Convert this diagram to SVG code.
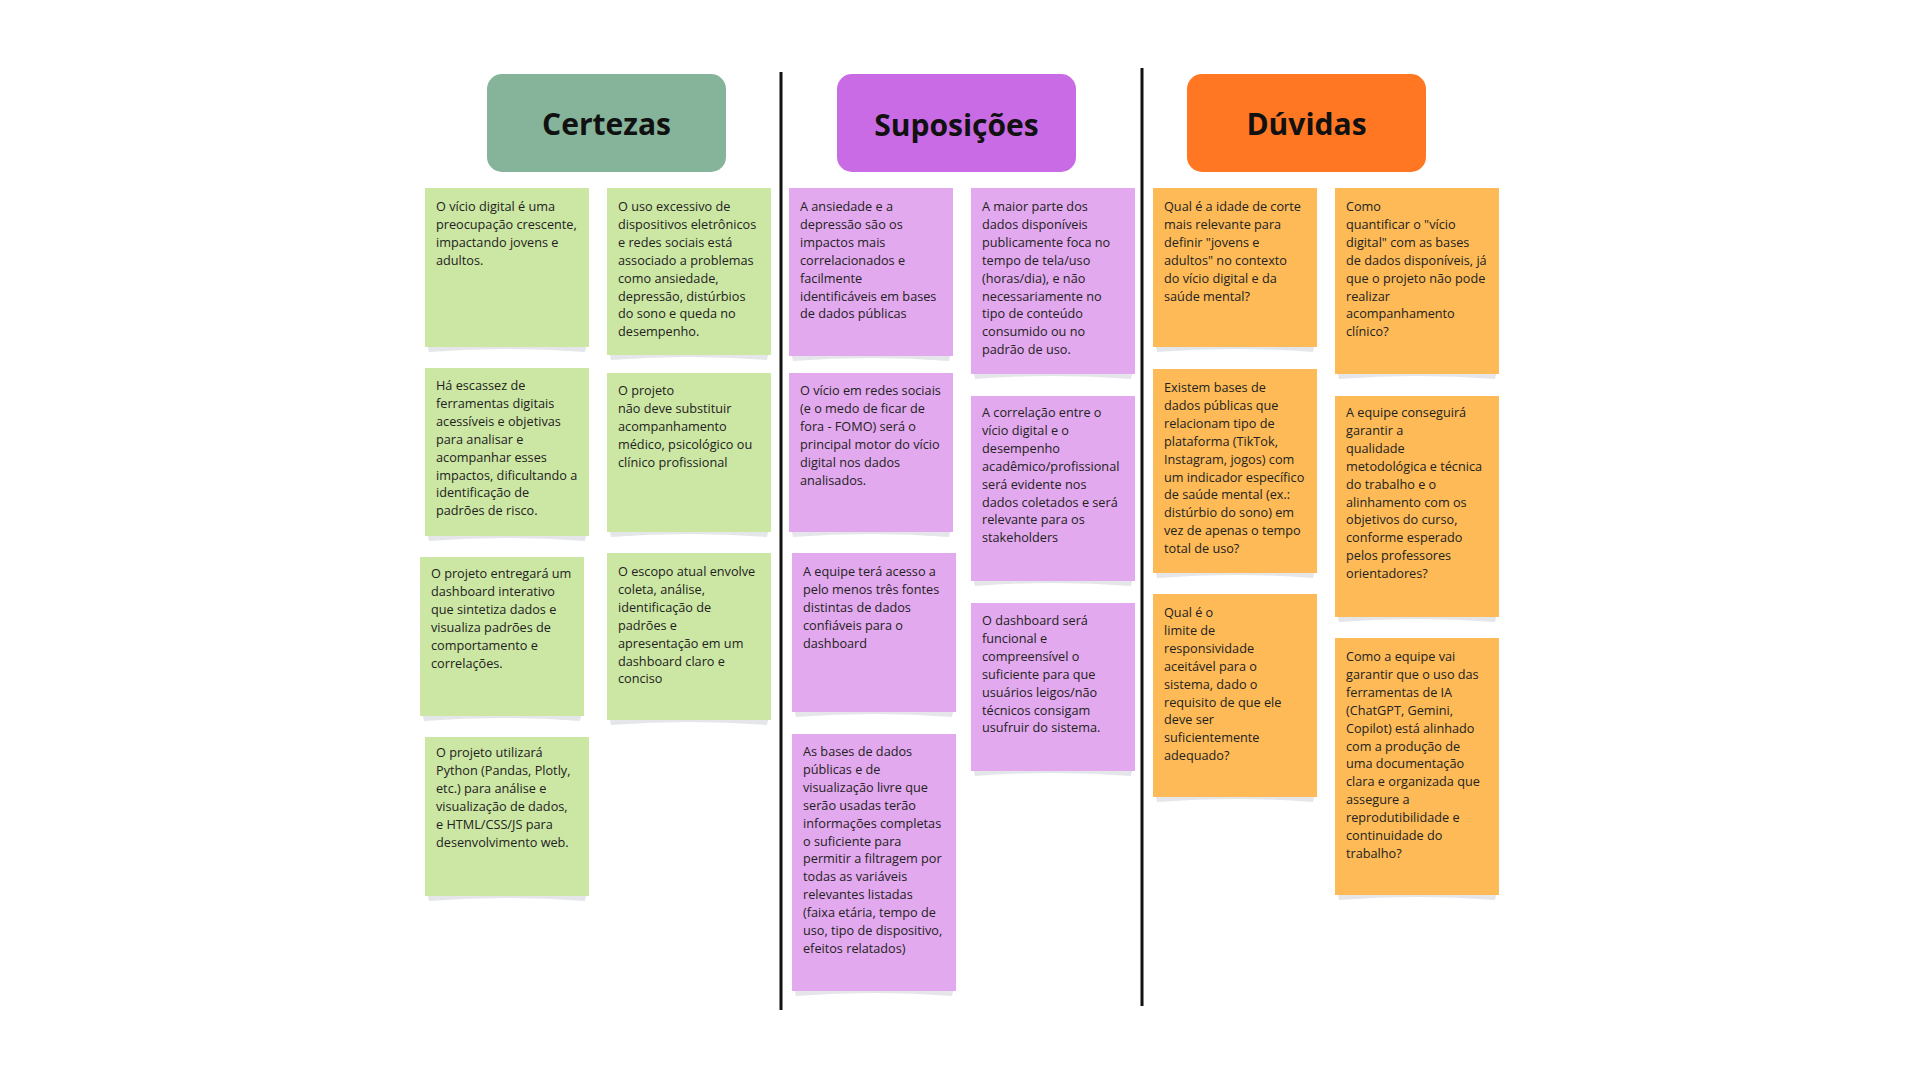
<svg xmlns="http://www.w3.org/2000/svg" width="1920" height="1080" viewBox="0 0 1920 1080">
<style>
.hd{font-family:"Open Sans","Noto Sans","DejaVu Sans",sans-serif;font-weight:700;font-size:30px;fill:#111;text-anchor:middle}
.t{font-family:"Open Sans","Noto Sans","DejaVu Sans",sans-serif;font-size:12.7px;fill:#222}
.g{fill:#CCE6A4}.p{fill:#E2A9EE}.o{fill:#FDBA57}
.sh{fill:#E4E6EA}
.sep{stroke:#111;stroke-width:3;fill:none}
</style>
<rect width="1920" height="1080" fill="#fff"/>
<g id="separators">
<line class="sep" x1="781" y1="72" x2="781" y2="1010"/>
<line class="sep" x1="1142" y1="68" x2="1142" y2="1006"/>
</g>
<g id="header-certezas"><rect x="487" y="74" width="239" height="98" rx="15" fill="#86B49A"/><text class="hd" x="606.5" y="135">Certezas</text></g>
<g id="header-suposicoes"><rect x="837" y="74" width="239" height="98" rx="15" fill="#C96BE4"/><text class="hd" x="956.5" y="136">Suposições</text></g>
<g id="header-duvidas"><rect x="1187" y="74" width="239" height="98" rx="15" fill="#FF7722"/><text class="hd" x="1306.5" y="135">Dúvidas</text></g>

<g id="c1"><path class="sh" d="M427 343H587L585 352Q507 346 429 352Z"/><rect class="g" x="425" y="188" width="164" height="159"/>
<text class="t" x="436" y="211"><tspan x="436">O vício digital é uma</tspan><tspan x="436" dy="17.9">preocupação crescente,</tspan><tspan x="436" dy="17.9">impactando jovens e</tspan><tspan x="436" dy="17.9">adultos.</tspan></text></g>
<g id="c2"><path class="sh" d="M609 351H769L767 360Q689 354 611 360Z"/><rect class="g" x="607" y="188" width="164" height="167"/>
<text class="t" x="618" y="211"><tspan x="618">O uso excessivo de</tspan><tspan x="618" dy="17.9">dispositivos eletrônicos</tspan><tspan x="618" dy="17.9">e redes sociais está</tspan><tspan x="618" dy="17.9">associado a problemas</tspan><tspan x="618" dy="17.9">como ansiedade,</tspan><tspan x="618" dy="17.9">depressão, distúrbios</tspan><tspan x="618" dy="17.9">do sono e queda no</tspan><tspan x="618" dy="17.9">desempenho.</tspan></text></g>
<g id="c3"><path class="sh" d="M427 532H587L585 541Q507 535 429 541Z"/><rect class="g" x="425" y="368" width="164" height="168"/>
<text class="t" x="436" y="390"><tspan x="436">Há escassez de</tspan><tspan x="436" dy="17.9">ferramentas digitais</tspan><tspan x="436" dy="17.9">acessíveis e objetivas</tspan><tspan x="436" dy="17.9">para analisar e</tspan><tspan x="436" dy="17.9">acompanhar esses</tspan><tspan x="436" dy="17.9">impactos, dificultando a</tspan><tspan x="436" dy="17.9">identificação de</tspan><tspan x="436" dy="17.9">padrões de risco.</tspan></text></g>
<g id="c4"><path class="sh" d="M609 528H769L767 537Q689 531 611 537Z"/><rect class="g" x="607" y="373" width="164" height="159"/>
<text class="t" x="618" y="395"><tspan x="618">O projeto</tspan><tspan x="618" dy="17.9">não deve substituir</tspan><tspan x="618" dy="17.9">acompanhamento</tspan><tspan x="618" dy="17.9">médico, psicológico ou</tspan><tspan x="618" dy="17.9">clínico profissional</tspan></text></g>
<g id="c5"><path class="sh" d="M422 712H582L580 721Q502 715 424 721Z"/><rect class="g" x="420" y="557" width="164" height="159"/>
<text class="t" x="431" y="578"><tspan x="431">O projeto entregará um</tspan><tspan x="431" dy="17.9">dashboard interativo</tspan><tspan x="431" dy="17.9">que sintetiza dados e</tspan><tspan x="431" dy="17.9">visualiza padrões de</tspan><tspan x="431" dy="17.9">comportamento e</tspan><tspan x="431" dy="17.9">correlações.</tspan></text></g>
<g id="c6"><path class="sh" d="M609 716H769L767 725Q689 719 611 725Z"/><rect class="g" x="607" y="553" width="164" height="167"/>
<text class="t" x="618" y="576"><tspan x="618">O escopo atual envolve</tspan><tspan x="618" dy="17.9">coleta, análise,</tspan><tspan x="618" dy="17.9">identificação de</tspan><tspan x="618" dy="17.9">padrões e</tspan><tspan x="618" dy="17.9">apresentação em um</tspan><tspan x="618" dy="17.9">dashboard claro e</tspan><tspan x="618" dy="17.9">conciso</tspan></text></g>
<g id="c7"><path class="sh" d="M427 892H587L585 901Q507 895 429 901Z"/><rect class="g" x="425" y="737" width="164" height="159"/>
<text class="t" x="436" y="757"><tspan x="436">O projeto utilizará</tspan><tspan x="436" dy="17.9">Python (Pandas, Plotly,</tspan><tspan x="436" dy="17.9">etc.) para análise e</tspan><tspan x="436" dy="17.9">visualização de dados,</tspan><tspan x="436" dy="17.9">e HTML/CSS/JS para</tspan><tspan x="436" dy="17.9">desenvolvimento web.</tspan></text></g>

<g id="s1"><path class="sh" d="M791 352H951L949 361Q871 355 793 361Z"/><rect class="p" x="789" y="188" width="164" height="168"/>
<text class="t" x="800" y="211"><tspan x="800">A ansiedade e a</tspan><tspan x="800" dy="17.9">depressão são os</tspan><tspan x="800" dy="17.9">impactos mais</tspan><tspan x="800" dy="17.9">correlacionados e</tspan><tspan x="800" dy="17.9">facilmente</tspan><tspan x="800" dy="17.9">identificáveis em bases</tspan><tspan x="800" dy="17.9">de dados públicas</tspan></text></g>
<g id="s2"><path class="sh" d="M973 370H1133L1131 379Q1053 373 975 379Z"/><rect class="p" x="971" y="188" width="164" height="186"/>
<text class="t" x="982" y="211"><tspan x="982">A maior parte dos</tspan><tspan x="982" dy="17.9">dados disponíveis</tspan><tspan x="982" dy="17.9">publicamente foca no</tspan><tspan x="982" dy="17.9">tempo de tela/uso</tspan><tspan x="982" dy="17.9">(horas/dia), e não</tspan><tspan x="982" dy="17.9">necessariamente no</tspan><tspan x="982" dy="17.9">tipo de conteúdo</tspan><tspan x="982" dy="17.9">consumido ou no</tspan><tspan x="982" dy="17.9">padrão de uso.</tspan></text></g>
<g id="s3"><path class="sh" d="M791 528H951L949 537Q871 531 793 537Z"/><rect class="p" x="789" y="373" width="164" height="159"/>
<text class="t" x="800" y="395"><tspan x="800">O vício em redes sociais</tspan><tspan x="800" dy="17.9">(e o medo de ficar de</tspan><tspan x="800" dy="17.9">fora - FOMO) será o</tspan><tspan x="800" dy="17.9">principal motor do vício</tspan><tspan x="800" dy="17.9">digital nos dados</tspan><tspan x="800" dy="17.9">analisados.</tspan></text></g>
<g id="s4"><path class="sh" d="M973 577H1133L1131 586Q1053 580 975 586Z"/><rect class="p" x="971" y="396" width="164" height="185"/>
<text class="t" x="982" y="417"><tspan x="982">A correlação entre o</tspan><tspan x="982" dy="17.9">vício digital e o</tspan><tspan x="982" dy="17.9">desempenho</tspan><tspan x="982" dy="17.9">acadêmico/profissional</tspan><tspan x="982" dy="17.9">será evidente nos</tspan><tspan x="982" dy="17.9">dados coletados e será</tspan><tspan x="982" dy="17.9">relevante para os</tspan><tspan x="982" dy="17.9">stakeholders</tspan></text></g>
<g id="s5"><path class="sh" d="M794 708H954L952 717Q874 711 796 717Z"/><rect class="p" x="792" y="553" width="164" height="159"/>
<text class="t" x="803" y="576"><tspan x="803">A equipe terá acesso a</tspan><tspan x="803" dy="17.9">pelo menos três fontes</tspan><tspan x="803" dy="17.9">distintas de dados</tspan><tspan x="803" dy="17.9">confiáveis para o</tspan><tspan x="803" dy="17.9">dashboard</tspan></text></g>
<g id="s6"><path class="sh" d="M973 767H1133L1131 776Q1053 770 975 776Z"/><rect class="p" x="971" y="603" width="164" height="168"/>
<text class="t" x="982" y="625"><tspan x="982">O dashboard será</tspan><tspan x="982" dy="17.9">funcional e</tspan><tspan x="982" dy="17.9">compreensível o</tspan><tspan x="982" dy="17.9">suficiente para que</tspan><tspan x="982" dy="17.9">usuários leigos/não</tspan><tspan x="982" dy="17.9">técnicos consigam</tspan><tspan x="982" dy="17.9">usufruir do sistema.</tspan></text></g>
<g id="s7"><path class="sh" d="M794 987H954L952 996Q874 990 796 996Z"/><rect class="p" x="792" y="734" width="164" height="257"/>
<text class="t" x="803" y="756"><tspan x="803">As bases de dados</tspan><tspan x="803" dy="17.9">públicas e de</tspan><tspan x="803" dy="17.9">visualização livre que</tspan><tspan x="803" dy="17.9">serão usadas terão</tspan><tspan x="803" dy="17.9">informações completas</tspan><tspan x="803" dy="17.9">o suficiente para</tspan><tspan x="803" dy="17.9">permitir a filtragem por</tspan><tspan x="803" dy="17.9">todas as variáveis</tspan><tspan x="803" dy="17.9">relevantes listadas</tspan><tspan x="803" dy="17.9">(faixa etária, tempo de</tspan><tspan x="803" dy="17.9">uso, tipo de dispositivo,</tspan><tspan x="803" dy="17.9">efeitos relatados)</tspan></text></g>

<g id="d1"><path class="sh" d="M1155 343H1315L1313 352Q1235 346 1157 352Z"/><rect class="o" x="1153" y="188" width="164" height="159"/>
<text class="t" x="1164" y="211"><tspan x="1164">Qual é a idade de corte</tspan><tspan x="1164" dy="17.9">mais relevante para</tspan><tspan x="1164" dy="17.9">definir "jovens e</tspan><tspan x="1164" dy="17.9">adultos" no contexto</tspan><tspan x="1164" dy="17.9">do vício digital e da</tspan><tspan x="1164" dy="17.9">saúde mental?</tspan></text></g>
<g id="d2"><path class="sh" d="M1337 370H1497L1495 379Q1417 373 1339 379Z"/><rect class="o" x="1335" y="188" width="164" height="186"/>
<text class="t" x="1346" y="211"><tspan x="1346">Como</tspan><tspan x="1346" dy="17.9">quantificar o "vício</tspan><tspan x="1346" dy="17.9">digital" com as bases</tspan><tspan x="1346" dy="17.9">de dados disponíveis, já</tspan><tspan x="1346" dy="17.9">que o projeto não pode</tspan><tspan x="1346" dy="17.9">realizar</tspan><tspan x="1346" dy="17.9">acompanhamento</tspan><tspan x="1346" dy="17.9">clínico?</tspan></text></g>
<g id="d3"><path class="sh" d="M1155 569H1315L1313 578Q1235 572 1157 578Z"/><rect class="o" x="1153" y="369" width="164" height="204"/>
<text class="t" x="1164" y="392"><tspan x="1164">Existem bases de</tspan><tspan x="1164" dy="17.9">dados públicas que</tspan><tspan x="1164" dy="17.9">relacionam tipo de</tspan><tspan x="1164" dy="17.9">plataforma (TikTok,</tspan><tspan x="1164" dy="17.9">Instagram, jogos) com</tspan><tspan x="1164" dy="17.9">um indicador específico</tspan><tspan x="1164" dy="17.9">de saúde mental (ex.:</tspan><tspan x="1164" dy="17.9">distúrbio do sono) em</tspan><tspan x="1164" dy="17.9">vez de apenas o tempo</tspan><tspan x="1164" dy="17.9">total de uso?</tspan></text></g>
<g id="d4"><path class="sh" d="M1337 613H1497L1495 622Q1417 616 1339 622Z"/><rect class="o" x="1335" y="396" width="164" height="221"/>
<text class="t" x="1346" y="417"><tspan x="1346">A equipe conseguirá</tspan><tspan x="1346" dy="17.9">garantir a</tspan><tspan x="1346" dy="17.9">qualidade</tspan><tspan x="1346" dy="17.9">metodológica e técnica</tspan><tspan x="1346" dy="17.9">do trabalho e o</tspan><tspan x="1346" dy="17.9">alinhamento com os</tspan><tspan x="1346" dy="17.9">objetivos do curso,</tspan><tspan x="1346" dy="17.9">conforme esperado</tspan><tspan x="1346" dy="17.9">pelos professores</tspan><tspan x="1346" dy="17.9">orientadores?</tspan></text></g>
<g id="d5"><path class="sh" d="M1155 793H1315L1313 802Q1235 796 1157 802Z"/><rect class="o" x="1153" y="594" width="164" height="203"/>
<text class="t" x="1164" y="617"><tspan x="1164">Qual é o</tspan><tspan x="1164" dy="17.9">limite de</tspan><tspan x="1164" dy="17.9">responsividade</tspan><tspan x="1164" dy="17.9">aceitável para o</tspan><tspan x="1164" dy="17.9">sistema, dado o</tspan><tspan x="1164" dy="17.9">requisito de que ele</tspan><tspan x="1164" dy="17.9">deve ser</tspan><tspan x="1164" dy="17.9">suficientemente</tspan><tspan x="1164" dy="17.9">adequado?</tspan></text></g>
<g id="d6"><path class="sh" d="M1337 891H1497L1495 900Q1417 894 1339 900Z"/><rect class="o" x="1335" y="638" width="164" height="257"/>
<text class="t" x="1346" y="661"><tspan x="1346">Como a equipe vai</tspan><tspan x="1346" dy="17.9">garantir que o uso das</tspan><tspan x="1346" dy="17.9">ferramentas de IA</tspan><tspan x="1346" dy="17.9">(ChatGPT, Gemini,</tspan><tspan x="1346" dy="17.9">Copilot) está alinhado</tspan><tspan x="1346" dy="17.9">com a produção de</tspan><tspan x="1346" dy="17.9">uma documentação</tspan><tspan x="1346" dy="17.9">clara e organizada que</tspan><tspan x="1346" dy="17.9">assegure a</tspan><tspan x="1346" dy="17.9">reprodutibilidade e</tspan><tspan x="1346" dy="17.9">continuidade do</tspan><tspan x="1346" dy="17.9">trabalho?</tspan></text></g>
</svg>
